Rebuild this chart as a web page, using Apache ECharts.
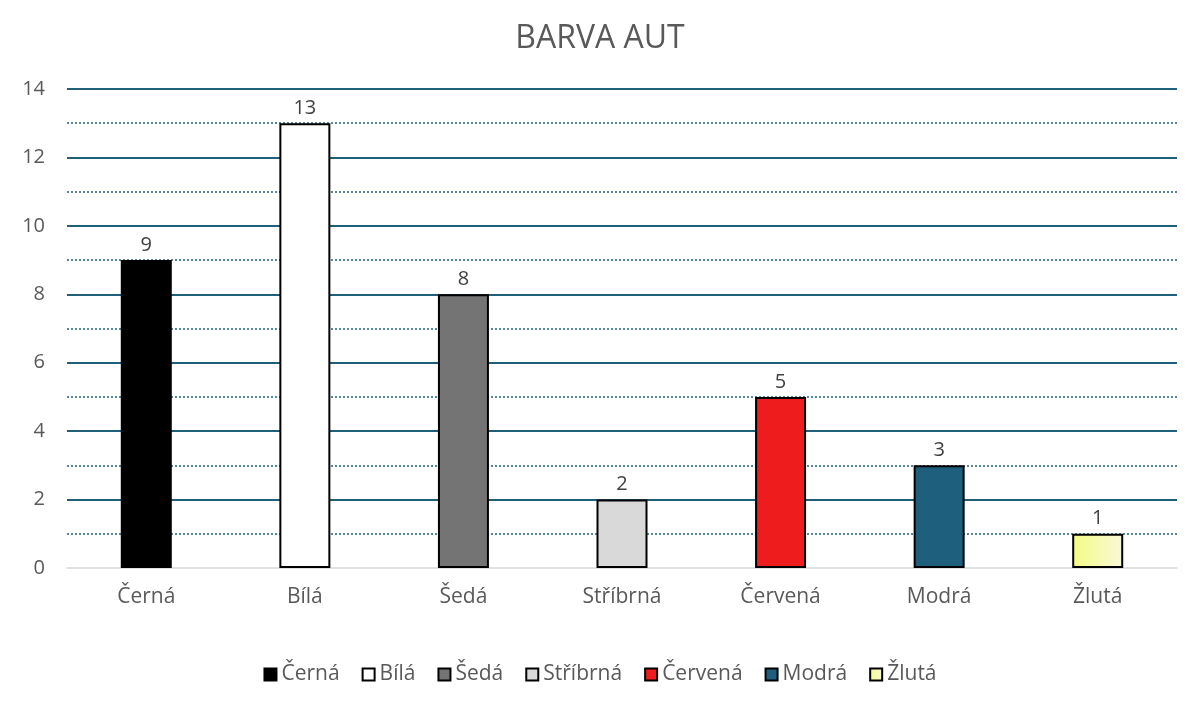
<!DOCTYPE html>
<html>
<head>
<meta charset="utf-8">
<script src="https://cdn.jsdelivr.net/npm/echarts@6/dist/echarts.min.js"></script>
<style>
  html, body { margin: 0; padding: 0; background: #fff; }
  #chart { width: 1200px; height: 712px; }
</style>
</head>
<body>
<div id="chart"></div>
<script>
const categories = ['Černá', 'Bílá', 'Šedá', 'Stříbrná', 'Červená', 'Modrá', 'Žlutá'];
const values = [9, 13, 8, 2, 5, 3, 1];
const colors = [
  '#000000',
  '#ffffff',
  '#747474',
  '#d9d9d9',
  '#ee1c1c',
  '#1f5f7e',
  new echarts.graphic.LinearGradient(0, 0, 1, 0, [
    { offset: 0, color: '#f4fb84' },
    { offset: 1, color: '#f8f9d8' }
  ])
];

const font = '"Open Sans", "Noto Sans", sans-serif';

const chart = echarts.init(document.getElementById('chart'));

// one series per colour so the legend lists each category
const series = categories.map((name, i) => ({
  name: name,
  type: 'bar',
  stack: 'all',
  barWidth: 51,
  data: categories.map((c, j) => (j === i ? values[i] : null)),
  itemStyle: {
    color: colors[i],
    borderColor: '#000',
    borderWidth: 2
  },
  label: {
    show: true,
    position: 'top',
    distance: 5,
    color: '#404040',
    fontSize: 20,
    fontFamily: font
  }
}));

chart.setOption({
  backgroundColor: '#fff',
  animation: false,
  title: {
    text: 'BARVA AUT',
    left: 'center',
    top: 18,
    textStyle: {
      color: '#595959',
      fontSize: 32,
      fontWeight: 'normal',
      fontFamily: font
    }
  },
  legend: {
    bottom: 22,
    left: 'center',
    icon: 'rect',
    itemWidth: 12,
    itemHeight: 12,
    itemGap: 22,
    textStyle: {
      color: '#595959',
      fontSize: 21,
      fontFamily: font
    }
  },
  grid: {
    left: 67,
    right: 23,
    top: 89,
    bottom: 144
  },
  xAxis: {
    type: 'category',
    data: categories,
    axisTick: { show: false },
    axisLine: { lineStyle: { color: '#d9d9d9', width: 1.5 } },
    axisLabel: {
      color: '#595959',
      fontSize: 21,
      fontFamily: font,
      margin: 19
    }
  },
  yAxis: {
    type: 'value',
    min: 0,
    max: 14,
    interval: 2,
    axisLine: { show: false },
    axisTick: { show: false },
    axisLabel: {
      color: '#595959',
      fontSize: 20,
      fontFamily: font,
      margin: 22
    },
    splitLine: {
      showMinLine: false,
      lineStyle: { color: '#1f5f7a', width: 2 }
    },
    minorTick: { show: false, splitNumber: 2 },
    minorSplitLine: {
      show: true,
      lineStyle: { color: '#1f5f7a', width: 1.5, type: [2, 2] }
    }
  },
  series: series
});
</script>
</body>
</html>
